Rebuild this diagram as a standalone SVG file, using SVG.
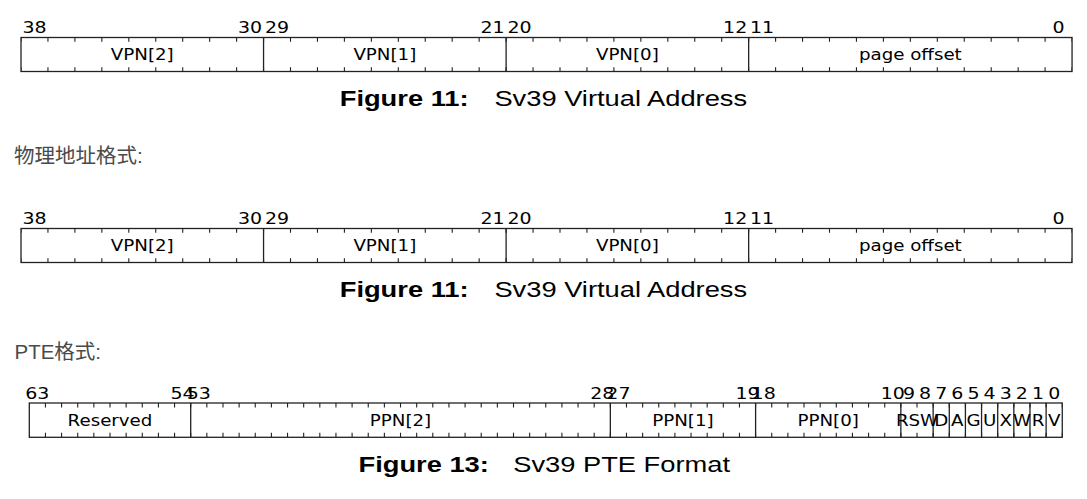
<svg xmlns="http://www.w3.org/2000/svg" width="1087" height="499" viewBox="0 0 1087 499">
<style>
.box{fill:#fff;stroke:#222;stroke-width:1.3}
.sep{stroke:#222;stroke-width:1.3;fill:none}
.tk{stroke:#222;stroke-width:4.2;stroke-dasharray:1.1 25.85;stroke-dashoffset:0.55}
.tk2{stroke:#222;stroke-width:4.5;stroke-dasharray:1.1 15.04;stroke-dashoffset:0.55}
.num{font-family:"DejaVu Sans",sans-serif;font-size:15.8px;fill:#000;text-anchor:middle}
.name{font-family:"DejaVu Sans",sans-serif;font-size:15.2px;fill:#000;text-anchor:middle}
.capb{font-family:"Liberation Sans",Arial,sans-serif;font-size:22.75px;font-weight:bold;fill:#000}
.cap{font-family:"Liberation Sans",Arial,sans-serif;font-size:22.75px;fill:#000}
.para{font-family:"Liberation Sans","Noto Sans CJK SC",sans-serif;font-size:20.5px;fill:#4a4a4a}
</style>
<rect width="1087" height="499" fill="#fff"/>

<g id="va1">
<rect class="box" x="21" y="37.5" width="1051.05" height="34"/>
<line class="tk" x1="21" y1="39.6" x2="1072.05" y2="39.6"/>
<line class="tk" x1="21" y1="69.4" x2="1072.05" y2="69.4"/>
<path class="sep" d="M263.55 37.5V71.5M506.1 37.5V71.5M748.65 37.5V71.5"/>
<g transform="scale(1.2,1)">
<text class="num" x="28.73" y="33.3">38</text>
<text class="num" x="208.4" y="33.3">30</text>
<text class="num" x="230.85" y="33.3">29</text>
<text class="num" x="410.52" y="33.3">21</text>
<text class="num" x="432.98" y="33.3">20</text>
<text class="num" x="612.65" y="33.3">12</text>
<text class="num" x="635.1" y="33.3">11</text>
<text class="num" x="882.15" y="33.3">0</text>
<text class="name" x="118.56" y="60">VPN[2]</text>
<text class="name" x="320.69" y="60">VPN[1]</text>
<text class="name" x="522.81" y="60">VPN[0]</text>
<text class="name" x="758.63" y="60">page offset</text>
<text class="capb" x="283.1" y="106.5">Figure 11:</text>
<text class="cap" x="412" y="106.5">Sv39 Virtual Address</text>
</g>
</g>

<text id="label-pa" class="para" x="14" y="163">物理地址格式:</text>

<g id="va2">
<rect class="box" x="21" y="228.5" width="1051.05" height="34"/>
<line class="tk" x1="21" y1="230.6" x2="1072.05" y2="230.6"/>
<line class="tk" x1="21" y1="260.4" x2="1072.05" y2="260.4"/>
<path class="sep" d="M263.55 228.5V262.5M506.1 228.5V262.5M748.65 228.5V262.5"/>
<g transform="scale(1.2,1)">
<text class="num" x="28.73" y="224.3">38</text>
<text class="num" x="208.4" y="224.3">30</text>
<text class="num" x="230.85" y="224.3">29</text>
<text class="num" x="410.52" y="224.3">21</text>
<text class="num" x="432.98" y="224.3">20</text>
<text class="num" x="612.65" y="224.3">12</text>
<text class="num" x="635.1" y="224.3">11</text>
<text class="num" x="882.15" y="224.3">0</text>
<text class="name" x="118.56" y="251">VPN[2]</text>
<text class="name" x="320.69" y="251">VPN[1]</text>
<text class="name" x="522.81" y="251">VPN[0]</text>
<text class="name" x="758.63" y="251">page offset</text>
<text class="capb" x="283.1" y="297.5">Figure 11:</text>
<text class="cap" x="412" y="297.5">Sv39 Virtual Address</text>
</g>
</g>

<text id="label-pte" class="para" x="14.5" y="359">PTE格式:</text>

<g id="pte">
<rect class="box" x="29.3" y="403" width="1032.96" height="34.3"/>
<line class="tk2" x1="29.3" y1="405.25" x2="1062.26" y2="405.25"/>
<line class="tk2" x1="29.3" y1="435.05" x2="1062.26" y2="435.05"/>
<path class="sep" d="M190.7 403V437.3M610.34 403V437.3M755.6 403V437.3M900.86 403V437.3M933.14 403V437.3M949.28 403V437.3M965.42 403V437.3M981.56 403V437.3M997.7 403V437.3M1013.84 403V437.3M1029.98 403V437.3M1046.12 403V437.3"/>
<g transform="scale(1.2,1)">
<text class="num" x="31.14" y="399">63</text>
<text class="num" x="152.19" y="399">54</text>
<text class="num" x="165.64" y="399">53</text>
<text class="num" x="501.89" y="399">28</text>
<text class="num" x="515.34" y="399">27</text>
<text class="num" x="622.94" y="399">19</text>
<text class="num" x="636.39" y="399">18</text>
<text class="num" x="743.99" y="399">10</text>
<text class="num" x="757.44" y="399">9</text>
<text class="num" x="770.89" y="399">8</text>
<text class="num" x="784.34" y="399">7</text>
<text class="num" x="797.79" y="399">6</text>
<text class="num" x="811.24" y="399">5</text>
<text class="num" x="824.69" y="399">4</text>
<text class="num" x="838.14" y="399">3</text>
<text class="num" x="851.59" y="399">2</text>
<text class="num" x="865.04" y="399">1</text>
<text class="num" x="878.49" y="399">0</text>
<text class="name" x="91.67" y="425.7">Reserved</text>
<text class="name" x="333.77" y="425.7">PPN[2]</text>
<text class="name" x="569.14" y="425.7">PPN[1]</text>
<text class="name" x="690.19" y="425.7">PPN[0]</text>
<text class="name" x="764.17" y="425.7">RSW</text>
<text class="name" x="784.34" y="425.7">D</text>
<text class="name" x="797.79" y="425.7">A</text>
<text class="name" x="811.24" y="425.7">G</text>
<text class="name" x="824.69" y="425.7">U</text>
<text class="name" x="838.14" y="425.7">X</text>
<text class="name" x="851.59" y="425.7">W</text>
<text class="name" x="865.04" y="425.7">R</text>
<text class="name" x="878.49" y="425.7">V</text>
<text class="capb" x="298.75" y="472.5">Figure 13:</text>
<text class="cap" x="427.67" y="472.5">Sv39 PTE Format</text>
</g>
</g>
</svg>
